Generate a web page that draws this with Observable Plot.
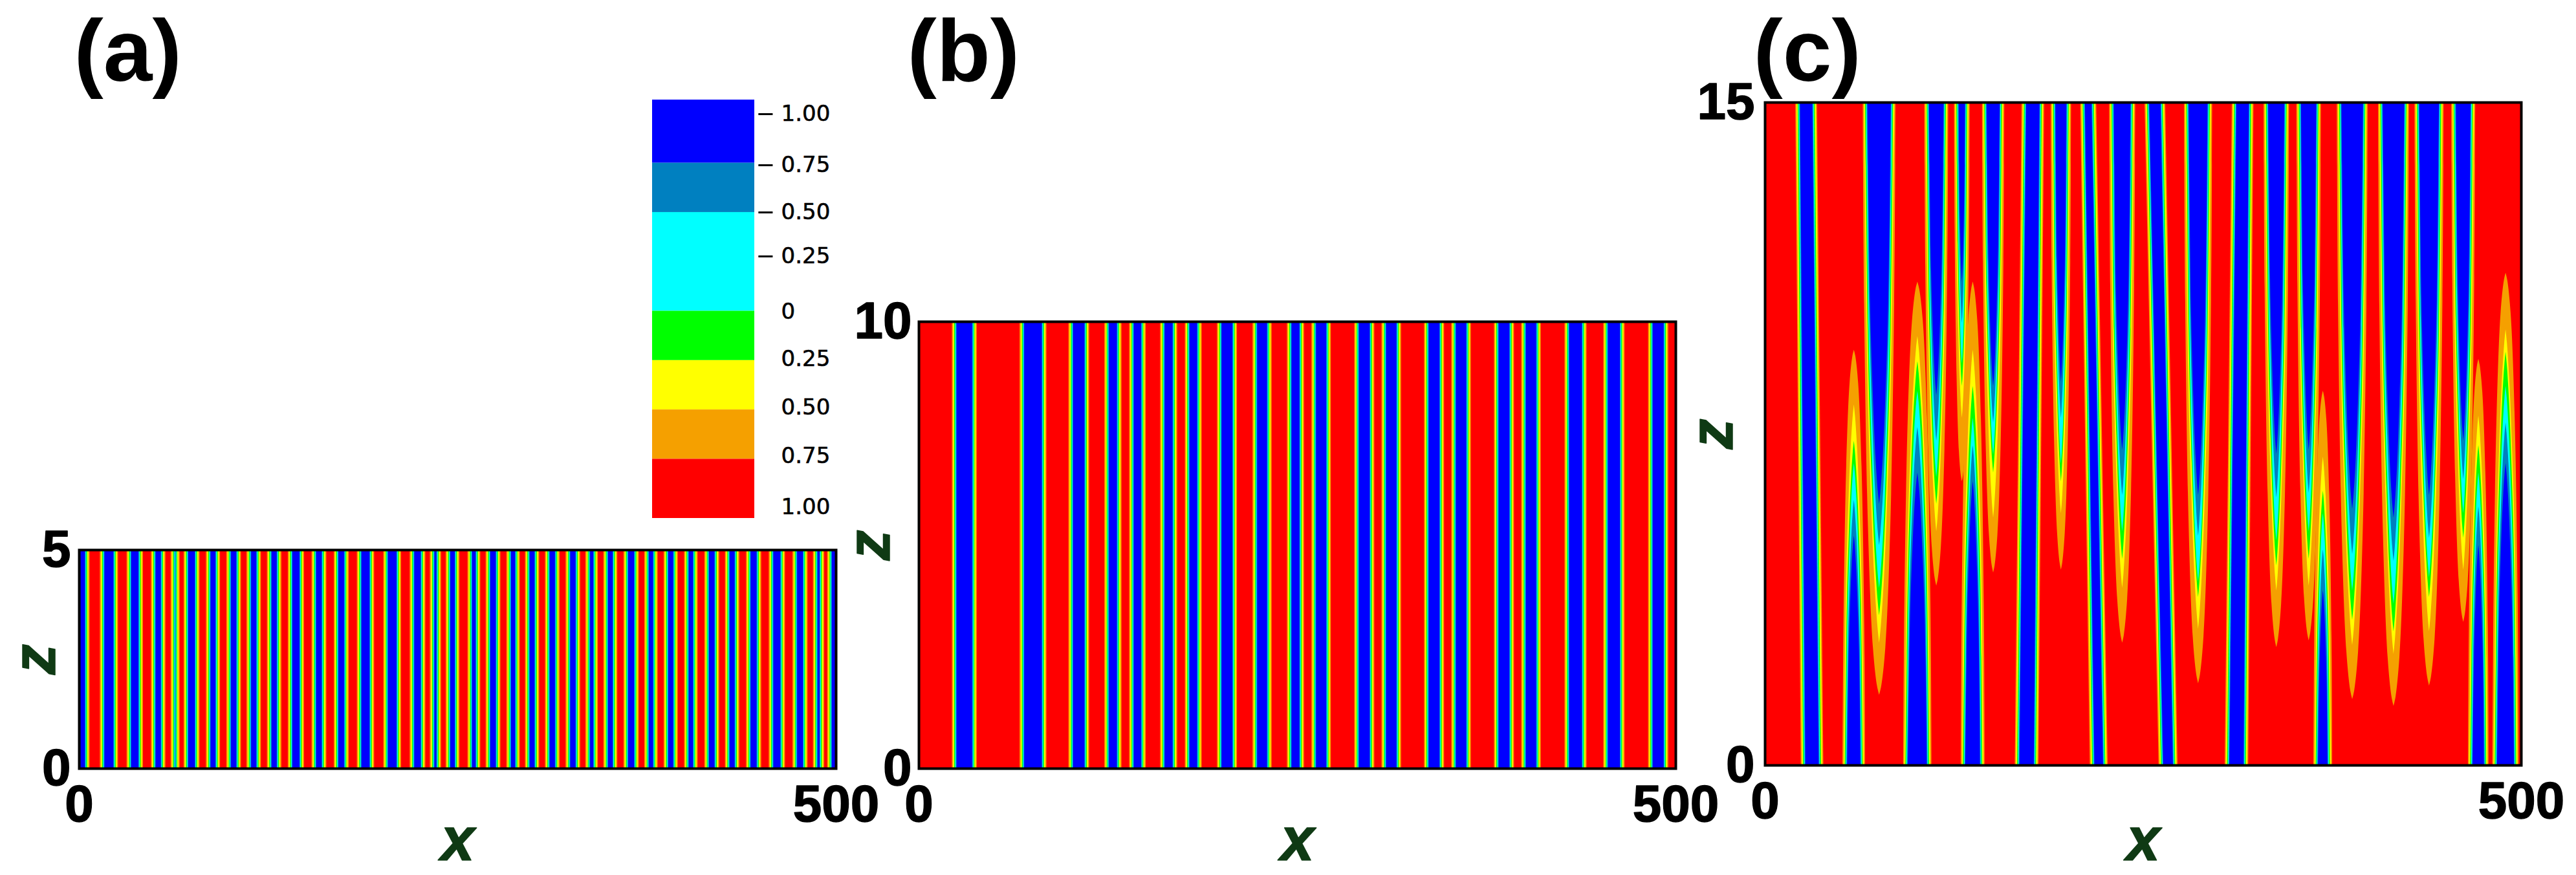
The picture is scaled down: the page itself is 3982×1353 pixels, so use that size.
<!DOCTYPE html>
<html>
<head>
<meta charset="utf-8">
<script src="https://cdn.jsdelivr.net/npm/d3@7"></script>
<script src="https://cdn.jsdelivr.net/npm/@observablehq/plot@0.6"></script>
<style>
html,body{margin:0;padding:0;background:#fff;}
#page{position:relative;width:3982px;height:1353px;overflow:hidden;}
</style>
</head>
<body>
<div id="page"></div>
<script>
// Contour levels, outermost first, with their colours.
const levels = ["orange","yellow","green","cyan","midblue","blue"];
const levelColors = ["#f5a000","#ffff00","#00ff00","#00ffff","#0080c0","#0000ff"];
const redColor = "#ff0000";
// Distance (x units) of each contour inside a stripe's outer orange edge.
const levelInsets = [0,0.8,1.5,2.1,2.6,3.1];

// Panel (a): low-field stripes, [left,right] of the orange edge, in x.
const stripesA = [[-4,7],[13.8,25.8],[31.5,42.3],[47.6,57.1],[60.6,66.5],[69.2,79.6],[83.9,93.2],[97.4,107],[110.7,120.2],[124.2,133.7],[138,148.7],[153.7,163.4],[168.4,178.2],[183.6,195],[201.1,212.8],[218.5,228.8],[231.8,239.2],[242.3,251.3],[256.7,265.1],[268.7,278.4],[282.4,291.2],[294.7,304],[307.9,317.5],[321.5,331.1],[334.6,342.8],[346.5,355.6],[359.8,369.8],[373.5,382.3],[386.3,395.6],[399.8,408.7],[413.2,422.9],[426.8,436.2],[440.7,450.7],[455.7,466.4],[471.4,481.3],[484.9,492.3],[494.3,504]];

// Panel (b)
const stripesB = [[22,38.4],[66.7,84.4],[99,112.6],[122.7,134],[139.1,150],[159.5,170.8],[175.9,187],[197.1,210.3],[220.6,233.2],[243.3,254.6],[259.5,272.3],[287.8,301],[305.8,318.7],[333.9,347.1],[351.9,364.8],[380.1,393.3],[398.1,411],[426.7,441.2],[452.3,466.3],[481.9,495.2]];

// Panel (c): stripes running the full height: left/right at top, left/right at bottom.
const fullStripesC = [
  [20.2,34.5,23.8,38.7],[169.8,184.7,165.3,180.9],[208.6,219.1,214.9,226.7],
  [251.1,264.7,260.4,272.9],[308.8,323.1,304.1,319.6]
];
// Stripes hanging from the top: centre, half width, then the z of each contour's tip.
const hangingC = [
  [75.6,10.8,[1.59,2.77,3.39,4.01,4.98,5.91]],
  [113.4,7.9,[4.06,5.29,5.91,6.52,7.34,8.37]],
  [130.3,5.15,[6.42,7.86,8.58,9.09,10.01,10.94]],
  [151,7.35,[4.36,5.6,6.62,7.03,7.75,8.58]],
  [195.8,6.7,[4.42,5.7,6.42,6.83,7.86,8.68]],
  [236.3,8.6,[2.77,4.01,4.67,5.29,6.11,7.14]],
  [286.5,9.3,[1.85,3.08,3.8,4.16,5.19,6.11]],
  [338.2,8.4,[2.67,3.95,4.52,5.08,6.06,7.04]],
  [359.6,8.1,[2.82,4.06,4.67,5.29,6.16,7.14]],
  [388.4,10.2,[1.49,2.72,3.29,3.95,4.78,5.8]],
  [415.7,10.2,[1.34,2.52,3.03,3.65,4.62,5.6]],
  [439.2,9.6,[1.8,3.03,3.8,4.26,5.14,6.11]],
  [461.8,7.9,[3.24,4.42,5.14,5.7,6.47,7.34]]
];
// Stripes rising from the bottom: same columns.
const risingC = [
  [58.9,7.45,[9.4,8.16,7.34,6.83,6,5.19]],
  [100.9,9.35,[10.94,9.71,9.14,8.47,7.65,6.62]],
  [137.5,7.9,[10.94,9.4,8.58,7.86,7.24,6.42]],
  [369,6.2,[8.47,6.98,6.21,5.7,4.88,3.95]],
  [471.8,6.8,[9.19,7.91,7.24,6.62,5.85,4.98]],
  [489.8,8.65,[11.14,9.86,9.35,8.58,7.75,6.83]]
];
// Width of a tongue along its length: [fraction of length, fraction of width].
const orangeProfile = [[0,1],[0.34,0.92],[0.72,0.68],[0.92,0.38],[0.985,0.13],[1,0]];
const innerProfile = [[0,1],[0.5,0.78],[0.73,0.54],[0.88,0.32],[0.97,0.11],[1,0]];

// Colour key
const keyBands = [["blue",-1.07,-0.75],["midblue",-0.75,-0.5],["cyan",-0.5,0],["green",0,0.25],["yellow",0.25,0.5],["orange",0.5,0.75],["red",0.75,1.05]];
const keyTicks = [-0.998,-0.739,-0.5,-0.277,0.005,0.244,0.49,0.735,0.994];
const keyLabels = ["1.00","0.75","0.50","0.25","0","0.25","0.50","0.75","1.00"];
const keyDashed = [true,true,true,true,false,false,false,false,false];

const W = 3982, H = 1353;
const font = "'Liberation Sans', Arial, sans-serif";
const titleGreen = "#0f3a14";
const colorScale = {type:"ordinal", domain:[...levels,"red"], range:[...levelColors,redColor]};

function stripeRows(stripes){
  return levels.flatMap((level,i)=>stripes.map(([l,r])=>({level,x1:l+levelInsets[i],x2:r-levelInsets[i]})).filter(d=>d.x2>d.x1));
}
function areaRowsC(zMax){
  const rows = [];
  levels.forEach((level,i)=>{
    const profile = i===0 ? orangeProfile : innerProfile;
    fullStripesC.forEach(([tl,tr,bl,br],s)=>{
      if (tr-tl<=2*levelInsets[i]) return;
      rows.push({key:`f${s}-${level}`,level,y:zMax,x1:tl+levelInsets[i],x2:tr-levelInsets[i]});
      rows.push({key:`f${s}-${level}`,level,y:0,x1:bl+levelInsets[i],x2:br-levelInsets[i]});
    });
    [[hangingC,zMax,"h"],[risingC,0,"r"]].forEach(([table,base,tag])=>{
      table.forEach(([c,hw,tips],s)=>{
        const half = hw-levelInsets[i];
        profile.forEach(([t,w])=>{
          rows.push({key:`${tag}${s}-${level}`,level,y:base+t*(tips[i]-base),x1:c-half*w,x2:c+half*w});
        });
      });
    });
  });
  return rows;
}

function panel({letter,letterX,left,right,top,bottom,zMax,pad,zDx,marks}){
  const heavy = {textStroke:"black",textStrokeWidth:1.5,tickSize:0,label:null,fontSize:80,fontWeight:700,fontFamily:font,fill:"black",tickFormat:d=>String(d)};
  const title = {text:d=>d,fontSize:94,fontWeight:700,fontStyle:"italic",fontFamily:font,fill:titleGreen,stroke:titleGreen,strokeWidth:1.5};
  return Plot.plot({
    width:W,height:H,
    marginLeft:left,marginRight:W-right,marginTop:top,marginBottom:H-bottom,
    style:{position:"absolute",left:"0px",top:"0px",background:"transparent",overflow:"visible",fontFamily:font},
    x:{domain:[0,500],axis:null},
    y:{domain:[0,zMax],axis:null},
    color:colorScale,
    marks:[
      Plot.frame({fill:redColor}),
      ...marks,
      Plot.frame({stroke:"black",strokeWidth:4}),
      Plot.axisX({ticks:[0,500],tickPadding:25,...heavy}),
      Plot.axisY({ticks:[0,zMax],tickPadding:pad,...heavy}),
      Plot.text(["x"],{x:()=>250,y:()=>0,dy:1329-bottom,lineAnchor:"bottom",...title}),
      Plot.text(["z"],{x:()=>0,y:()=>zMax/2,dx:zDx,rotate:-90,lineAnchor:"middle",...title}),
      Plot.text([letter],{x:()=>0,y:()=>zMax,dx:letterX-left,dy:124-top,textAnchor:"start",lineAnchor:"bottom",text:d=>d,fontSize:136,fontWeight:700,fontFamily:font,fill:"black"})
    ]
  });
}
function stripeMark(stripes,zMax){
  return Plot.rect(stripeRows(stripes),{x1:"x1",x2:"x2",y1:()=>0,y2:()=>zMax,fill:"level",clip:true});
}

const page = document.getElementById("page");
page.append(panel({letter:"(a)",letterX:114,left:122,right:1292,top:850,bottom:1188,zMax:5,pad:13,zDx:-68,marks:[stripeMark(stripesA,5)]}));
page.append(panel({letter:"(b)",letterX:1402,left:1420,right:2590,top:497,bottom:1188,zMax:10,pad:11,zDx:-76,marks:[stripeMark(stripesB,10)]}));
page.append(panel({letter:"(c)",letterX:2710,left:2728,right:3897,top:158,bottom:1183,zMax:15,pad:16,zDx:-81,marks:[
  Plot.areaX(areaRowsC(15),{x1:"x1",x2:"x2",y:"y",z:"key",fill:"level",curve:"catmull-rom",clip:true})
]}));

// Colour key
const keyFont = "'DejaVu Sans', sans-serif";
page.append(Plot.plot({
  width:W,height:H,
  marginLeft:1008,marginRight:W-1166,marginTop:154,marginBottom:H-801,
  style:{position:"absolute",left:"0px",top:"0px",background:"transparent",overflow:"visible",fontFamily:keyFont},
  x:{domain:[0,1],axis:null},
  y:{domain:[-1.07,1.05],reverse:true,axis:null},
  color:colorScale,
  marks:[
    Plot.rect(keyBands,{x1:()=>0,x2:()=>1,y1:d=>d[1],y2:d=>d[2],fill:d=>d[0]}),
    Plot.ruleY(keyTicks.filter((v,i)=>keyDashed[i]),{y:d=>d,x1:()=>1.04,x2:()=>1.18,stroke:"black",strokeWidth:3}),
    Plot.text(keyTicks,{x:()=>1.26,y:d=>d,text:(d,i)=>keyLabels[i],textAnchor:"start",lineAnchor:"middle",fontSize:34,fontFamily:keyFont,fill:"black",stroke:"black",strokeWidth:0.6})
  ]
}));
</script>
</body>
</html>
